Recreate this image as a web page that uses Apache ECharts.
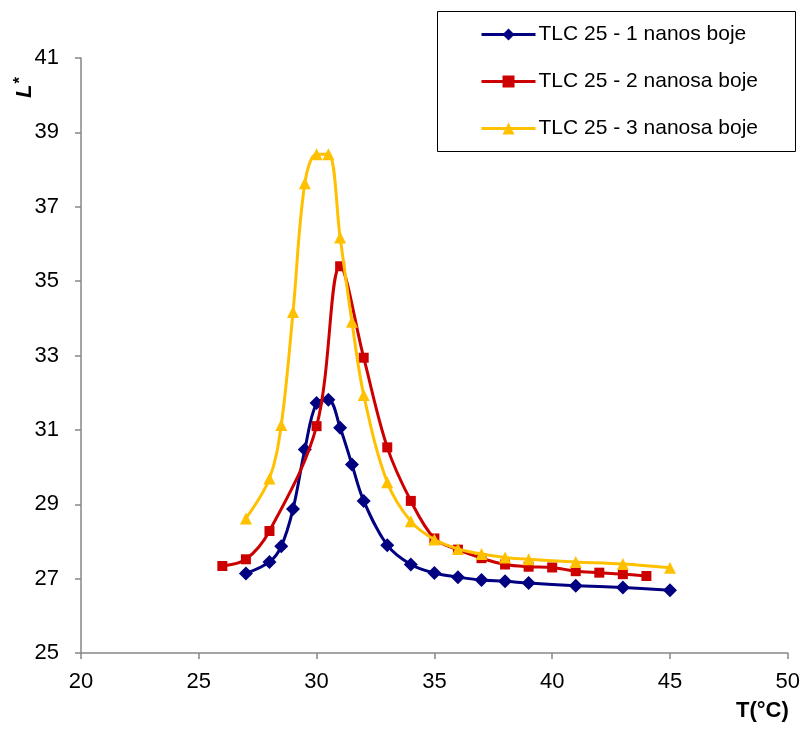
<!DOCTYPE html>
<html><head><meta charset="utf-8">
<script src="https://cdn.jsdelivr.net/npm/echarts@6/dist/echarts.min.js"></script>
<style>html,body{margin:0;padding:0;background:#fff}#c{width:803px;height:729px}</style>
</head><body><div id="c"></div>
<script>
const seriesNames = ['TLC 25 - 1 nanos boje', 'TLC 25 - 2 nanosa boje', 'TLC 25 - 3 nanosa boje'];
const xTicks = [20, 25, 30, 35, 40, 45, 50];
const yTicks = [25, 27, 29, 31, 33, 35, 37, 39, 41];

const blueX = [27, 28, 28.5, 29, 29.5, 30, 30.5, 31, 31.5, 32, 33, 34, 35, 36, 37, 38, 39, 41, 43, 45];
const blueY = [27.14, 27.45, 27.87, 28.87, 30.47, 31.72, 31.81, 31.06, 30.07, 29.09, 27.9, 27.38, 27.15, 27.04, 26.96, 26.93, 26.88, 26.81, 26.76, 26.69];

const redX = [26, 27, 28, 30, 31, 32, 33, 34, 35, 36, 37, 38, 39, 40, 41, 42, 43, 44];
const redY = [27.34, 27.52, 28.28, 31.1, 35.4, 32.94, 30.53, 29.09, 28.08, 27.78, 27.55, 27.38, 27.32, 27.3, 27.2, 27.16, 27.12, 27.07];

const yellowX = [27, 28, 28.5, 29, 29.5, 30, 30.5, 31, 31.5, 32, 33, 34, 35, 36, 37, 38, 39, 41, 43, 45];
const yellowY = [28.62, 29.69, 31.13, 34.17, 37.63, 38.41, 38.41, 36.17, 33.91, 31.94, 29.59, 28.54, 28.05, 27.8, 27.66, 27.57, 27.52, 27.45, 27.39, 27.29];

const colors = ['#000080', '#CC0000', '#FFC000'];
const symbols = ['diamond', 'rect', 'triangle'];
const symSizes = [14, 10, 12];

function zip(xs, ys) { return xs.map((x, i) => [x, ys[i]]); }
const datasets = [zip(blueX, blueY), zip(redX, redY), zip(yellowX, yellowY)];

const font = 'Liberation Sans, Arial, sans-serif';
const chart = echarts.init(document.getElementById('c'), null, {renderer: 'canvas'});
chart.setOption({
  animation: false,
  backgroundColor: '#fff',
  grid: {left: 81, right: 11, top: 58, bottom: 76, containLabel: false},
  xAxis: {
    type: 'value', min: xTicks[0], max: xTicks[xTicks.length - 1], interval: 5,
    axisLine: {show: true, lineStyle: {color: '#868686', width: 1.5}},
    axisTick: {show: true, inside: false, length: 6, lineStyle: {color: '#868686', width: 1.5}},
    axisLabel: {color: '#000', fontSize: 22, fontFamily: font, margin: 18},
    splitLine: {show: false}
  },
  yAxis: {
    type: 'value', min: yTicks[0], max: yTicks[yTicks.length - 1], interval: 2,
    axisLine: {show: true, lineStyle: {color: '#868686', width: 1.5}},
    axisTick: {show: true, inside: false, length: 6, lineStyle: {color: '#868686', width: 1.5}},
    axisLabel: {color: '#000', fontSize: 22, fontFamily: font, margin: 22},
    splitLine: {show: false}
  },
  legend: {
    orient: 'vertical', left: 480, top: 24, padding: 0,
    itemWidth: 54, itemHeight: 15, itemGap: 26,
    lineStyle: {width: 3},
    textStyle: {color: '#000', fontSize: 21, fontFamily: font, padding: [0, 0, 0, -2]},
    data: seriesNames
  },
  graphic: [
    {type: 'rect', left: 437, top: 11, shape: {width: 358, height: 140}, style: {fill: '#fff', stroke: '#000', lineWidth: 1}, z: -1},
    {type: 'text', left: 736, top: 700, style: {text: 'T(°C)', font: 'bold 22px ' + font, fill: '#000'}},
    {type: 'text', x: 12, y: 98, rotation: Math.PI / 2,
      style: {text: '{l|L}{s|*}', rich: {
        l: {font: 'italic bold 22px ' + font, fill: '#000'},
        s: {font: 'bold 17px ' + font, fill: '#000', verticalAlign: 'top', padding: [0, 0, 8, 1]}
      }, fill: '#000'}}
  ],
  series: seriesNames.map((name, i) => ({
    name: name, type: 'line', data: datasets[i], smooth: 0.35,
    symbol: symbols[i], symbolSize: symSizes[i], showAllSymbol: true,
    lineStyle: {color: colors[i], width: 3},
    itemStyle: {color: colors[i], borderWidth: 0},
    z: 2 + i
  }))
});
</script></body></html>
